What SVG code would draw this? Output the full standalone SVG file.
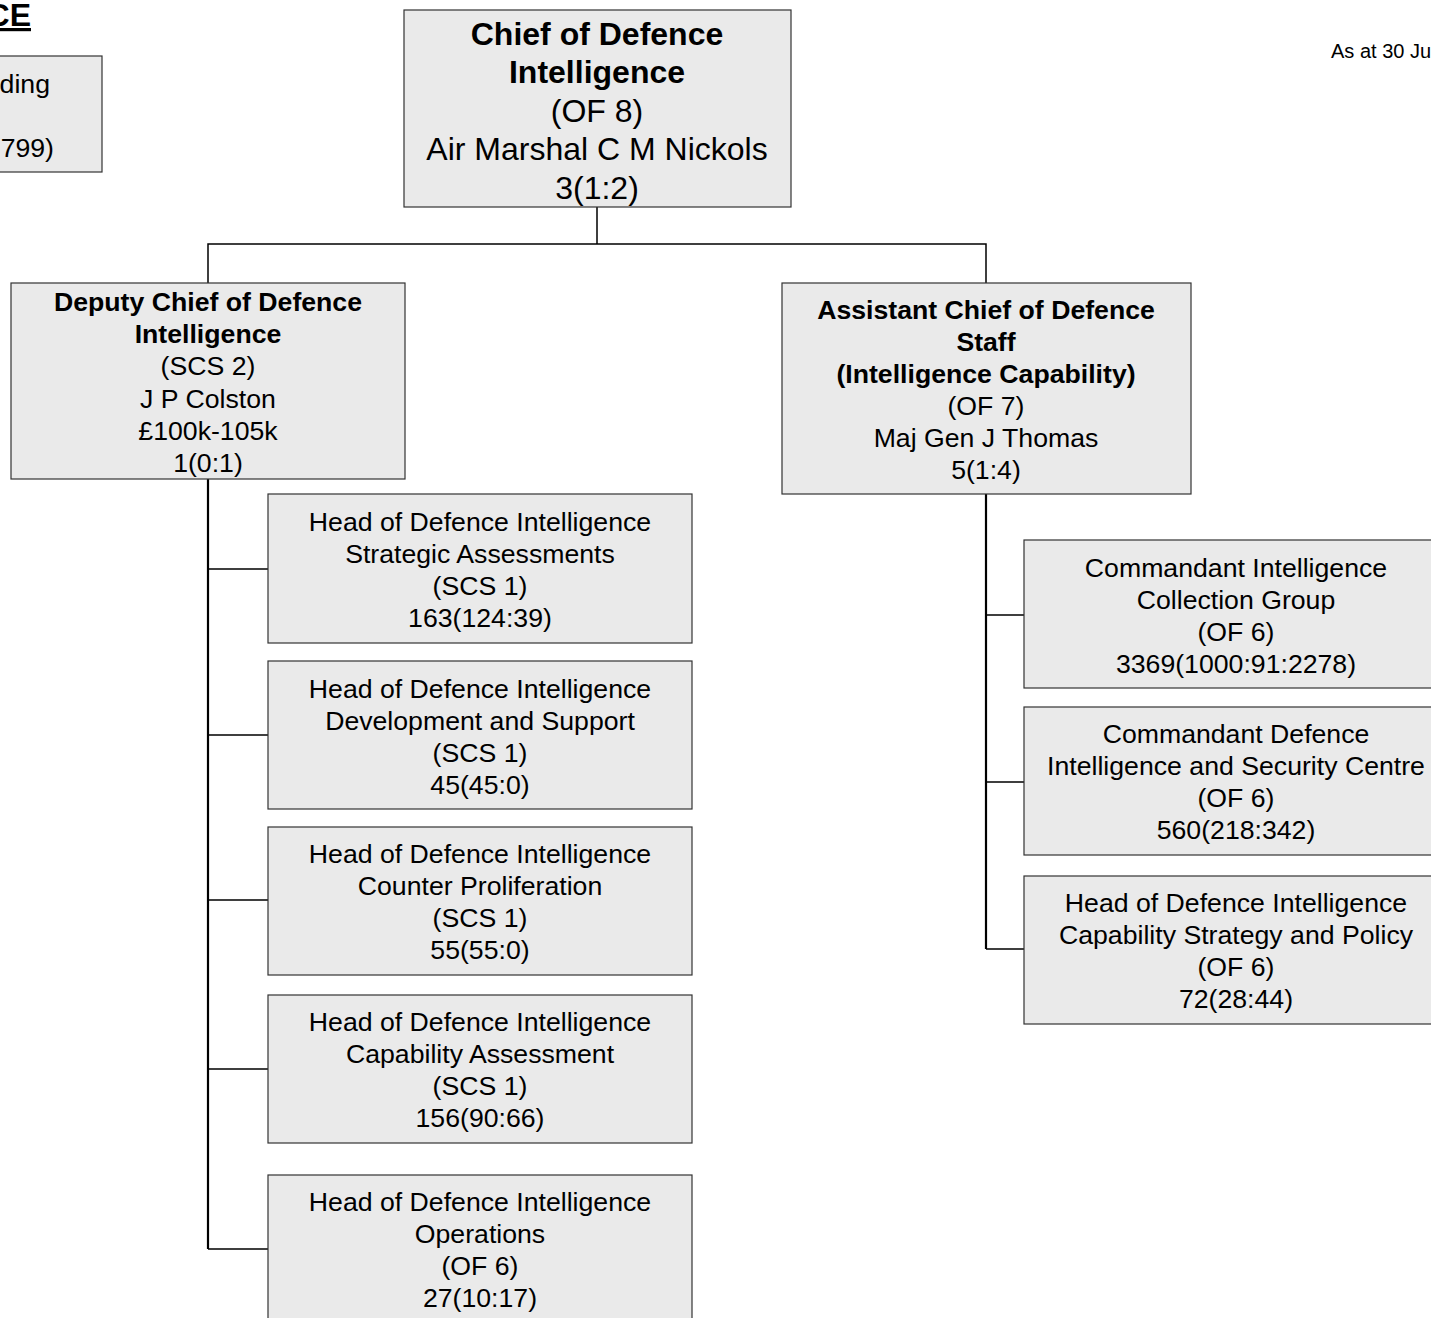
<svg xmlns="http://www.w3.org/2000/svg" width="1431" height="1318" viewBox="0 0 1431 1318">
<style>
.box{fill:#eaeaea;stroke:#333333;stroke-width:1.2}
text{font-family:"Liberation Sans",Arial,sans-serif;fill:#000}
.t{font-size:26.67px;text-anchor:middle}
.tt{font-size:32px;text-anchor:middle}
.b{font-weight:bold}
.c{fill:none;stroke:#000;stroke-width:1.5}
.trunk{fill:none;stroke:#000;stroke-width:2.2}
</style>
<rect width="1431" height="1318" fill="#fff"/>
<g id="title">
<text x="31" y="26" font-size="32" font-weight="bold" text-anchor="end" text-decoration="underline">CE</text>
</g>
<g id="date">
<text x="1331" y="58" font-size="20">As at 30 Ju</text>
</g>
<g id="connectors">
<path class="c" d="M597,207 V244 M208,283 V244 H986 V283"/>
<path class="trunk" d="M208,479 V1249"/>
<path class="c" d="M208,569 H268 M208,735 H268 M208,900 H268 M208,1069 H268 M208,1249 H268"/>
<path class="trunk" d="M986,494 V949"/>
<path class="c" d="M986,615 H1024 M986,782 H1024 M986,949 H1024"/>
</g>
<g id="node-left-partial">
<rect class="box" x="-10" y="56" width="112" height="116"/>
<text x="50" y="93" font-size="26.67" text-anchor="end">ding</text>
<text x="54" y="157" font-size="26.67" text-anchor="end">799)</text>
</g>
<g id="node-cdi">
<rect class="box" x="404" y="10" width="387" height="197"/>
<text class="tt b" x="597" y="45">Chief of Defence</text>
<text class="tt b" x="597" y="83">Intelligence</text>
<text class="tt" x="597" y="122">(OF 8)</text>
<text class="tt" x="597" y="160">Air Marshal C M Nickols</text>
<text class="tt" x="597" y="199">3(1:2)</text>
</g>
<g id="node-dcdi">
<rect class="box" x="11" y="283" width="394" height="196"/>
<text class="t b" x="208" y="311">Deputy Chief of Defence</text>
<text class="t b" x="208" y="343">Intelligence</text>
<text class="t" x="208" y="375">(SCS 2)</text>
<text class="t" x="208" y="408">J P Colston</text>
<text class="t" x="208" y="440">£100k-105k</text>
<text class="t" x="208" y="472">1(0:1)</text>
</g>
<g id="node-acds">
<rect class="box" x="782" y="283" width="409" height="211"/>
<text class="t b" x="986" y="319">Assistant Chief of Defence</text>
<text class="t b" x="986" y="351">Staff</text>
<text class="t b" x="986" y="383">(Intelligence Capability)</text>
<text class="t" x="986" y="415">(OF 7)</text>
<text class="t" x="986" y="447">Maj Gen J Thomas</text>
<text class="t" x="986" y="479">5(1:4)</text>
</g>
<g id="node-hdi-sa">
<rect class="box" x="268" y="494" width="424" height="149"/>
<text class="t" x="480" y="531">Head of Defence Intelligence</text>
<text class="t" x="480" y="563">Strategic Assessments</text>
<text class="t" x="480" y="595">(SCS 1)</text>
<text class="t" x="480" y="627">163(124:39)</text>
</g>
<g id="node-hdi-ds">
<rect class="box" x="268" y="661" width="424" height="148"/>
<text class="t" x="480" y="698">Head of Defence Intelligence</text>
<text class="t" x="480" y="730">Development and Support</text>
<text class="t" x="480" y="762">(SCS 1)</text>
<text class="t" x="480" y="794">45(45:0)</text>
</g>
<g id="node-hdi-cp">
<rect class="box" x="268" y="827" width="424" height="148"/>
<text class="t" x="480" y="863">Head of Defence Intelligence</text>
<text class="t" x="480" y="895">Counter Proliferation</text>
<text class="t" x="480" y="927">(SCS 1)</text>
<text class="t" x="480" y="959">55(55:0)</text>
</g>
<g id="node-hdi-ca">
<rect class="box" x="268" y="995" width="424" height="148"/>
<text class="t" x="480" y="1031">Head of Defence Intelligence</text>
<text class="t" x="480" y="1063">Capability Assessment</text>
<text class="t" x="480" y="1095">(SCS 1)</text>
<text class="t" x="480" y="1127">156(90:66)</text>
</g>
<g id="node-hdi-ops">
<rect class="box" x="268" y="1175" width="424" height="160"/>
<text class="t" x="480" y="1211">Head of Defence Intelligence</text>
<text class="t" x="480" y="1243">Operations</text>
<text class="t" x="480" y="1275">(OF 6)</text>
<text class="t" x="480" y="1307">27(10:17)</text>
</g>
<g id="node-cicg">
<rect class="box" x="1024" y="540" width="424" height="148"/>
<text class="t" x="1236" y="577">Commandant Intelligence</text>
<text class="t" x="1236" y="609">Collection Group</text>
<text class="t" x="1236" y="641">(OF 6)</text>
<text class="t" x="1236" y="673">3369(1000:91:2278)</text>
</g>
<g id="node-cdisc">
<rect class="box" x="1024" y="707" width="424" height="148"/>
<text class="t" x="1236" y="743">Commandant Defence</text>
<text class="t" x="1236" y="775">Intelligence and Security Centre</text>
<text class="t" x="1236" y="807">(OF 6)</text>
<text class="t" x="1236" y="839">560(218:342)</text>
</g>
<g id="node-hdi-csp">
<rect class="box" x="1024" y="876" width="424" height="148"/>
<text class="t" x="1236" y="912">Head of Defence Intelligence</text>
<text class="t" x="1236" y="944">Capability Strategy and Policy</text>
<text class="t" x="1236" y="976">(OF 6)</text>
<text class="t" x="1236" y="1008">72(28:44)</text>
</g>
</svg>
